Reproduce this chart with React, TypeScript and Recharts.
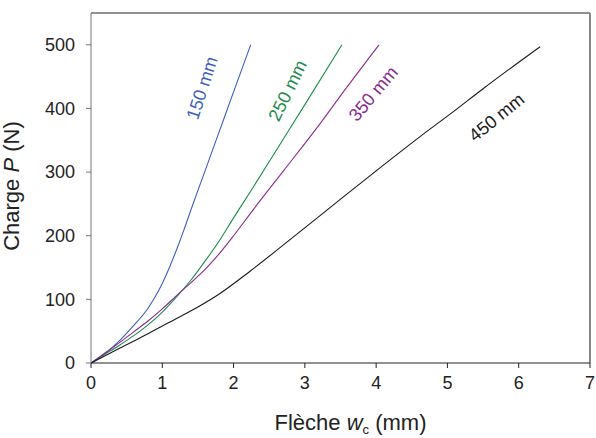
import React from 'react';
import { LineChart, Line, XAxis, YAxis, ReferenceLine, ReferenceDot, Label } from 'recharts';

// span 150 mm
const x150 = [0, 0.2, 0.4, 0.6, 0.8, 0.9, 1.0, 1.1, 1.2, 1.3, 1.4, 1.6, 1.8, 2.0, 2.24];
const p150 = [0, 15, 35, 59, 86, 104, 125, 150, 178, 208, 240, 302, 364, 426, 500];

// span 250 mm
const x250 = [0, 0.2, 0.4, 0.6, 0.8, 1.0, 1.2, 1.4, 1.6, 1.8, 2.0, 2.24, 2.67, 3.0, 3.52];
const p250 = [0, 14, 28, 43, 60, 80, 104, 130, 160, 192, 228, 270, 347, 406, 500];

// span 350 mm
const x350 = [0, 0.2, 0.4, 0.6, 0.8, 1.0, 1.2, 1.4, 1.6, 1.8, 2.0, 2.29, 2.7, 3.18, 3.6, 4.04];
const p350 = [0, 16, 32, 49, 66, 85, 106, 126, 147, 172, 200, 243, 302, 371, 435, 500];

// span 450 mm
const x450 = [0, 0.4, 0.8, 1.2, 1.5, 1.82, 2.24, 2.66, 3.34, 4.0, 4.63, 5.06, 5.5, 6.3];
const p450 = [0, 23, 46, 70, 88, 110, 145, 182, 243, 302, 357, 393, 431, 497];

const xTicks = [0, 1, 2, 3, 4, 5, 6, 7];
const yTicks = [0, 100, 200, 300, 400, 500];

const toPoints = (xs: number[], ys: number[]) => xs.map((x, i) => ({ x, y: ys[i] }));

const series = [
  { name: '150 mm', color: '#3f5fc0', data: toPoints(x150, p150) },
  { name: '250 mm', color: '#1d8c4c', data: toPoints(x250, p250) },
  { name: '350 mm', color: '#8a2a8e', data: toPoints(x350, p350) },
  { name: '450 mm', color: '#1a1a1a', data: toPoints(x450, p450) },
];

// where each curve name sits (data coords) and its slant
const curveLabels = [
  { text: '150 mm', color: '#3f5fc0', x: 1.56, y: 432, angle: -72 },
  { text: '250 mm', color: '#1d8c4c', x: 2.76, y: 428, angle: -64 },
  { text: '350 mm', color: '#8a2a8e', x: 3.96, y: 423, angle: -50 },
  { text: '450 mm', color: '#1a1a1a', x: 5.69, y: 386, angle: -39 },
];

const FONT = '"Liberation Sans", Arial, sans-serif';

export default function App() {
  return (
    <div style={{ position: 'absolute', left: 0, top: 0, background: '#fff' }}>
      <LineChart
        width={596}
        height={438}
        margin={{ top: 13, right: 6, left: 0, bottom: 0 }}
        style={{ fontFamily: FONT }}
      >
        <XAxis
          type="number"
          dataKey="x"
          domain={[0, 7]}
          ticks={xTicks}
          height={75}
          tickSize={5}
          tickMargin={8}
          stroke="#222"
          tick={{ fontSize: 18, fill: '#222' }}
        >
          <Label
            content={(props: any) => {
              const vb = props.viewBox;
              return (
                <text
                  x={vb.x + vb.width / 2 + 10}
                  y={vb.y + 67}
                  textAnchor="middle"
                  fontSize={22}
                  fill="#222"
                  fontFamily={FONT}
                >
                  Flèche <tspan fontStyle="italic">w</tspan>
                  <tspan fontSize={13} dy={4}>c</tspan>
                  <tspan dy={-4}> (mm)</tspan>
                </text>
              );
            }}
          />
        </XAxis>
        <YAxis
          type="number"
          domain={[0, 550]}
          ticks={yTicks}
          width={91}
          tickSize={5}
          tickMargin={11}
          stroke="#777"
          tick={{ fontSize: 18, fill: '#222' }}
        >
          <Label
            content={(props: any) => {
              const vb = props.viewBox;
              const cx = 19;
              const cy = vb.y + vb.height / 2 - 2;
              return (
                <text
                  x={cx}
                  y={cy}
                  transform={`rotate(-90, ${cx}, ${cy})`}
                  textAnchor="middle"
                  fontSize={22}
                  fill="#222"
                  fontFamily={FONT}
                >
                  Charge <tspan fontStyle="italic">P</tspan> (N)
                </text>
              );
            }}
          />
        </YAxis>
        <ReferenceLine y={550} stroke="#222" strokeWidth={1} />
        <ReferenceLine x={7} stroke="#888" strokeWidth={2} />
        {series.map((s) => (
          <Line
            key={s.name}
            data={s.data}
            dataKey="y"
            type="monotone"
            stroke={s.color}
            strokeWidth={1.1}
            dot={false}
            activeDot={false}
            isAnimationActive={false}
          />
        ))}
        {curveLabels.map((l) => (
          <ReferenceDot
            key={l.text}
            x={l.x}
            y={l.y}
            r={1}
            fill="none"
            stroke="none"
            label={(props: any) => {
              const vb = props.viewBox;
              const cx = vb.x + vb.width / 2;
              const cy = vb.y + vb.height / 2;
              return (
                <text
                  x={cx}
                  y={cy}
                  transform={`rotate(${l.angle}, ${cx}, ${cy})`}
                  textAnchor="middle"
                  dominantBaseline="central"
                  fontSize={18}
                  fill={l.color}
                  fontFamily={FONT}
                >
                  {l.text}
                </text>
              );
            }}
          />
        ))}
      </LineChart>
    </div>
  );
}
